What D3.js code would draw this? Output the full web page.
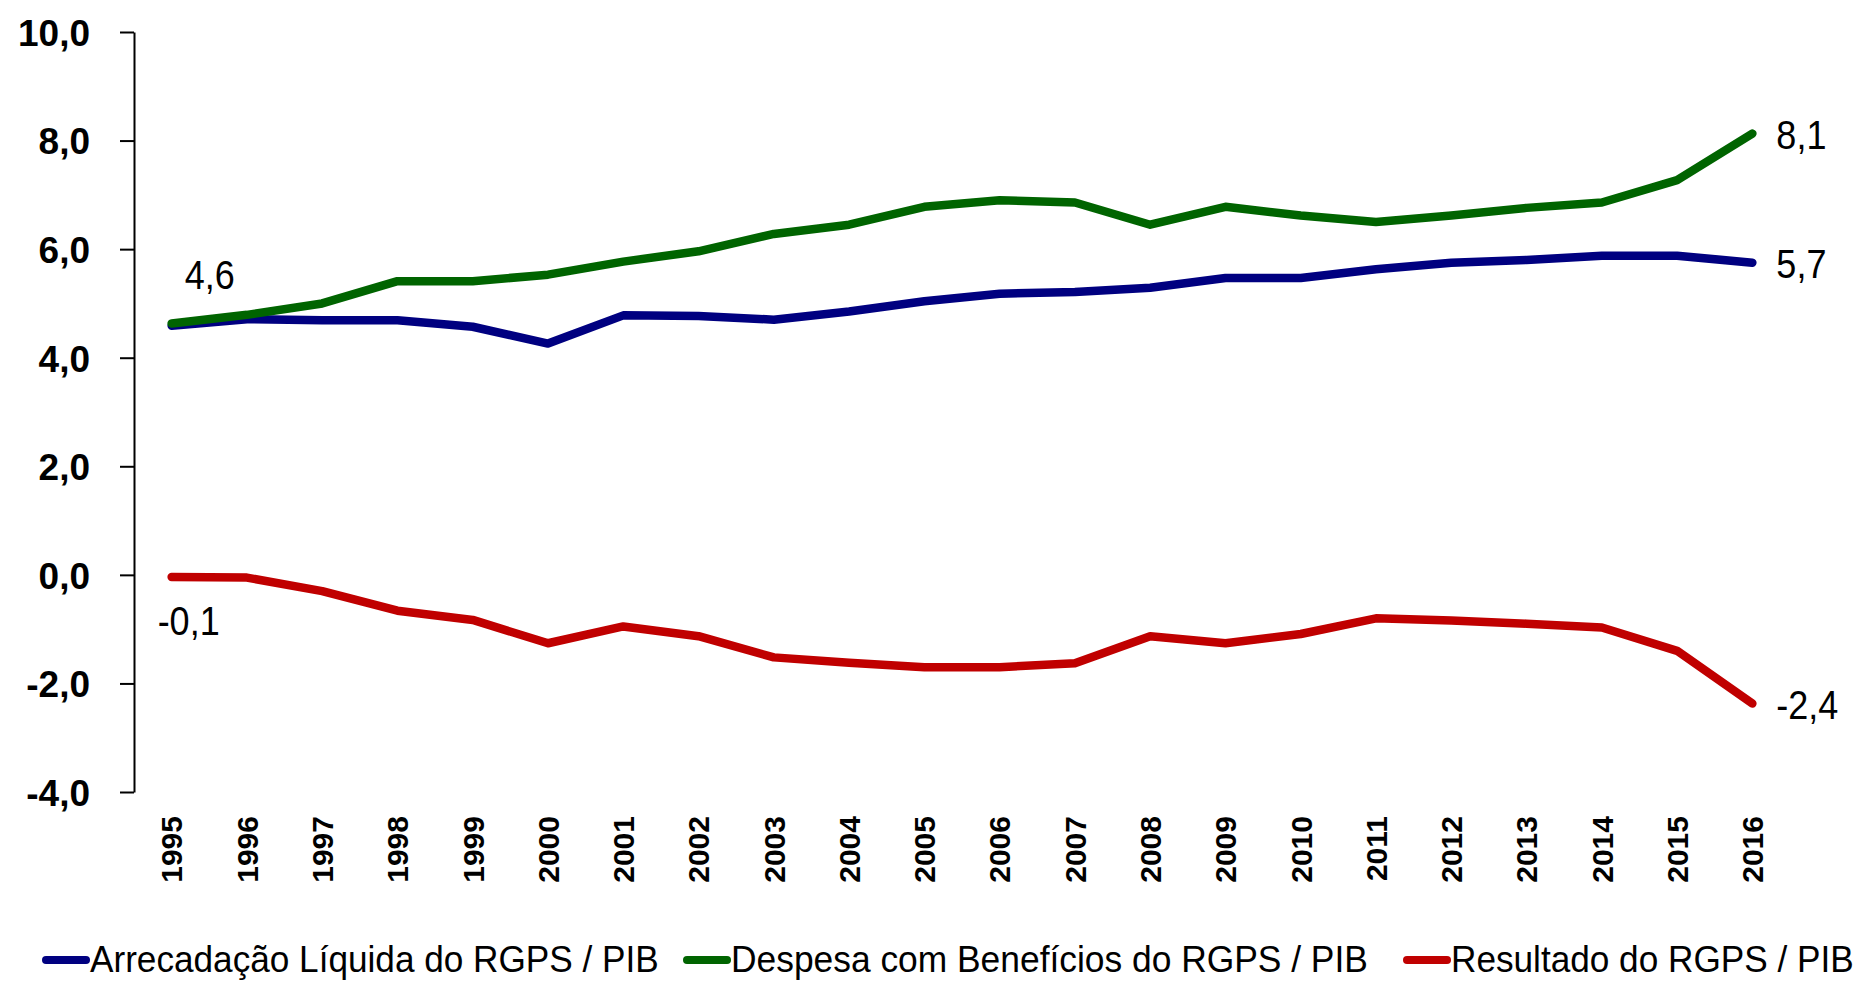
<!DOCTYPE html>
<html>
<head>
<meta charset="utf-8">
<script src="https://cdnjs.cloudflare.com/ajax/libs/d3/7.8.5/d3.min.js"></script>
<style>
  body { margin: 0; background: #fff; }
  svg { display: block; font-family: "Liberation Sans", Arial, sans-serif; }
  .axis path, .axis line { stroke: #000; stroke-width: 2px; }
  .axis text { fill: #000; font-weight: bold; }
</style>
</head>
<body>
<div id="chart"></div>
<script>
var years = ["1995","1996","1997","1998","1999","2000","2001","2002","2003","2004","2005",
             "2006","2007","2008","2009","2010","2011","2012","2013","2014","2015","2016"];

// % do PIB
var arrecadacao = [4.59, 4.71, 4.69, 4.69, 4.57, 4.26, 4.78, 4.77, 4.70, 4.85, 5.04,
                   5.18, 5.21, 5.29, 5.47, 5.47, 5.63, 5.75, 5.80, 5.88, 5.88, 5.75];
var despesa = [4.63, 4.79, 5.00, 5.41, 5.41, 5.53, 5.77, 5.96, 6.28, 6.45, 6.78,
               6.90, 6.86, 6.45, 6.78, 6.62, 6.50, 6.62, 6.76, 6.86, 7.27, 8.13];
var resultado = [-0.04, -0.05, -0.30, -0.66, -0.83, -1.26, -0.95, -1.13, -1.52, -1.62, -1.70,
                 -1.70, -1.63, -1.13, -1.26, -1.09, -0.80, -0.84, -0.90, -0.97, -1.40, -2.37];

var seriesNames = ["Arrecadação Líquida do RGPS / PIB", "Despesa com Benefícios do RGPS / PIB", "Resultado do RGPS / PIB"];
var seriesColors = ["#000080", "#006400", "#c00000"];
var yTicks = [-4, -2, 0, 2, 4, 6, 8, 10];

// data labels: [series, year index, text]
var pointLabels = [
  [1, 0, "4,6"],
  [2, 0, "-0,1"],
  [1, 21, "8,1"],
  [0, 21, "5,7"],
  [2, 21, "-2,4"]
];

var width = 1873, height = 982;
var series = [arrecadacao, despesa, resultado];

var ptBR = d3.formatLocale({decimal: ",", thousands: ".", grouping: [3], currency: ["R$", ""], minus: "-"});
var fmt = ptBR.format(".1f");

var svg = d3.select("#chart").append("svg")
  .attr("width", width)
  .attr("height", height);

var x = d3.scaleBand().domain(years).range([134, 1790]).padding(0);
var y = d3.scaleLinear().domain([-4, 10]).range([792, 32]);

function cx(i) { return x(years[i]) + x.bandwidth() / 2; }

// y axis
var yAxis = svg.append("g")
  .attr("class", "axis")
  .attr("transform", "translate(134,0)")
  .call(d3.axisLeft(y).tickValues(yTicks).tickFormat(fmt).tickSize(14).tickSizeOuter(0).tickPadding(30));
yAxis.selectAll("text").style("font-size", "37px").attr("dy", "0.36em");

// x labels (no axis line)
svg.append("g")
  .selectAll("text")
  .data(years)
  .enter().append("text")
  .attr("transform", function(d) { return "translate(" + (x(d) + x.bandwidth() / 2) + ",816) rotate(-90)"; })
  .attr("text-anchor", "end")
  .attr("dy", "0.36em")
  .style("font-size", "30px")
  .style("font-weight", "bold")
  .text(function(d) { return d; });

var line = d3.line()
  .x(function(d, i) { return cx(i); })
  .y(function(d) { return y(d); });

svg.append("g")
  .selectAll("path")
  .data(series)
  .enter().append("path")
  .attr("d", line)
  .attr("fill", "none")
  .attr("stroke", function(d, i) { return seriesColors[i]; })
  .attr("stroke-width", 8.5)
  .attr("stroke-linejoin", "round")
  .attr("stroke-linecap", "round");

// narrow look: scale text horizontally around its start point
function squeeze(sel, k) {
  sel.each(function(d, i) {
    var t = d3.select(this);
    var kk = typeof k === "function" ? k.call(this, d, i) : k;
    var x0 = +t.attr("x"), y0 = +t.attr("y");
    t.attr("x", 0).attr("y", 0)
      .attr("transform", "translate(" + x0 + "," + y0 + ") scale(" + kk + ",1)");
  });
}

var lbl = svg.append("g")
  .selectAll("text")
  .data(pointLabels)
  .enter().append("text")
  .style("font-size", "40px")
  .attr("fill", "#000")
  .attr("x", function(d) {
    if (d[1] == 0) return d[0] == 1 ? cx(0) + 13 : cx(0) - 14;
    return cx(d[1]) + 24;
  })
  .attr("y", function(d) {
    var v = series[d[0]][d[1]];
    if (d[1] == 0) return d[0] == 1 ? y(v) - 35 : y(v) + 58;
    return y(v) + 15;
  })
  .text(function(d) { return d[2]; });
squeeze(lbl, 0.9);

// legend
var legendX = [42, 683, 1403];
var legendW = [569, 637, 403];
var legend = svg.append("g")
  .selectAll("g")
  .data(seriesNames)
  .enter().append("g")
  .attr("transform", function(d, i) { return "translate(" + legendX[i] + ",960)"; });

legend.append("line")
  .attr("x1", 4).attr("x2", 44)
  .attr("y1", 0).attr("y2", 0)
  .attr("stroke", function(d, i) { return seriesColors[i]; })
  .attr("stroke-width", 8)
  .attr("stroke-linecap", "round");

var legendText = legend.append("text")
  .attr("x", 48)
  .attr("y", 12)
  .style("font-size", "37px")
  .attr("fill", "#000")
  .text(function(d) { return d; });
squeeze(legendText, function(d, i) { return legendW[i] / this.getComputedTextLength(); });
</script>
</body>
</html>
